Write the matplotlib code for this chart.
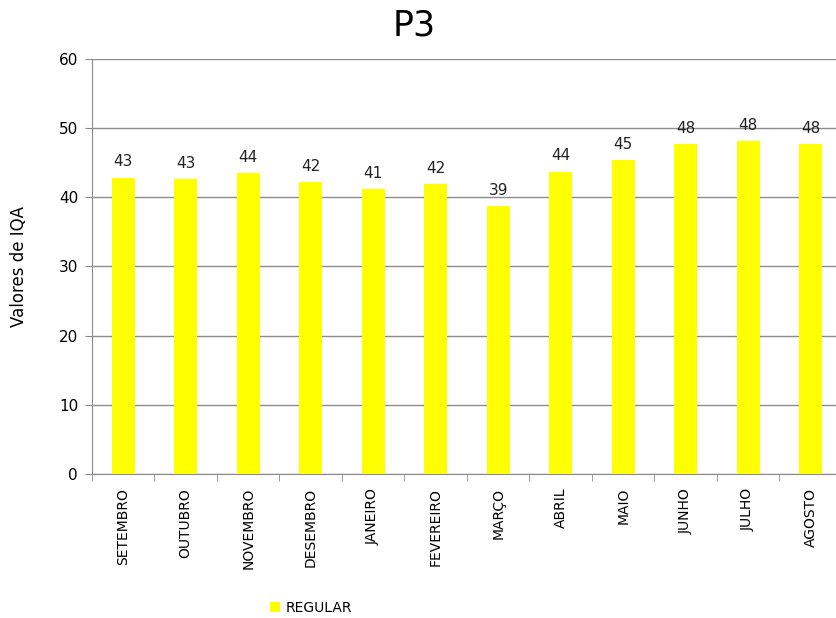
import numpy as np
import matplotlib.pyplot as plt
from matplotlib.ticker import MultipleLocator, FixedLocator

# monthly IQA values for point P3
meses = ['SETEMBRO', 'OUTUBRO', 'NOVEMBRO', 'DESEMBRO', 'JANEIRO', 'FEVEREIRO',
         'MARÇO', 'ABRIL', 'MAIO', 'JUNHO', 'JULHO', 'AGOSTO']
iqa = [42.8, 42.6, 43.5, 42.2, 41.2, 41.9, 38.7, 43.7, 45.3, 47.7, 48.1, 47.7]
serie = 'REGULAR'

fig = plt.figure(figsize=(8.36, 6.18), dpi=100)
ax = fig.add_axes([0.110, 0.233, 0.897, 0.672])

x = np.arange(len(meses))
bars = ax.bar(x, iqa, width=0.37, color='#FFFF00', label=serie, zorder=3)

# rounded value above each bar
for xi, v in zip(x, iqa):
    ax.text(xi, v + 1.2, f'{v:.0f}', ha='center', va='bottom', fontsize=11,
            color='#222222')

ax.set_xlim(-0.5, len(meses) - 0.5)
ax.set_ylim(0, 60)
ax.yaxis.set_major_locator(MultipleLocator(10))
ax.grid(axis='y', color='#8c8c8c', linewidth=1, zorder=0)

ax.set_xticks(x)
ax.set_xticklabels(meses, rotation=90, fontsize=10)
ax.xaxis.set_minor_locator(FixedLocator(np.arange(len(meses) + 1) - 0.5))
ax.tick_params(axis='x', which='major', length=0, pad=10)
ax.tick_params(axis='x', which='minor', length=5, color='#8c8c8c')
ax.tick_params(axis='y', length=5, color='#8c8c8c', labelsize=11, pad=5)

for s in ['top', 'right']:
    ax.spines[s].set_visible(False)
for s in ['left', 'bottom']:
    ax.spines[s].set_color('#8c8c8c')

ax.set_ylabel('Valores de IQA', fontsize=12, labelpad=22)
fig.text(0.495, 0.958, 'P3', ha='center', va='center', fontsize=25)

fig.legend(loc='center', bbox_to_anchor=(0.372, 0.016), frameon=False,
           fontsize=10, handlelength=0.7, handleheight=0.7, handletextpad=0.4)

plt.savefig('out.png', dpi=100)
